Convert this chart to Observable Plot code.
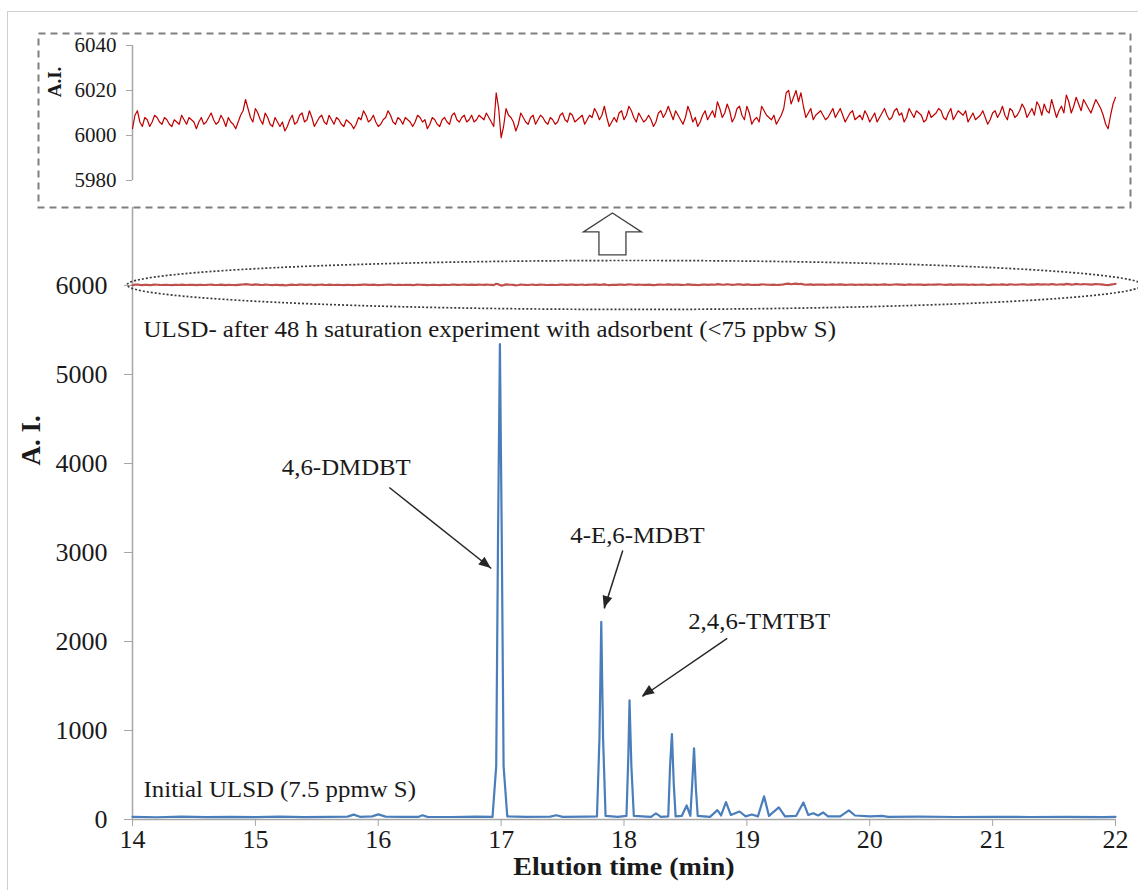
<!DOCTYPE html>
<html>
<head>
<meta charset="utf-8">
<script src="https://cdn.jsdelivr.net/npm/d3@7"></script>
<script src="https://cdn.jsdelivr.net/npm/@observablehq/plot@0.6"></script>
<style>
  html, body { margin: 0; padding: 0; background: white; }
  #wrap { position: relative; width: 1138px; height: 890px; overflow: hidden; background: white; }
  #wrap svg { position: absolute; left: 0; top: 0; overflow: visible; }
  #border { position: absolute; left: 7px; top: 11px; width: 1140px; height: 900px;
            border-left: 1px solid #cfcfcf; border-top: 1px solid #cfcfcf; }
</style>
</head>
<body>
<div id="wrap"><div id="border"></div></div>
<script>
// ---------- data ----------
// Initial ULSD chromatogram (blue): elution time (min) and intensity (A.I.)
const blueTime = [14.00,14.20,14.40,14.60,14.80,15.00,15.20,15.40,15.60,15.75,15.80,15.85,15.95,16.00,16.06,16.20,16.33,16.36,16.40,16.60,16.80,16.93,16.96,16.975,16.99,17.005,17.02,17.05,17.20,17.40,17.45,17.50,17.70,17.78,17.80,17.815,17.83,17.85,17.95,18.02,18.035,18.045,18.06,18.08,18.22,18.26,18.30,18.36,18.375,18.39,18.405,18.42,18.47,18.51,18.54,18.555,18.57,18.585,18.60,18.70,18.76,18.79,18.83,18.87,18.94,18.99,19.04,19.09,19.14,19.18,19.26,19.31,19.40,19.46,19.50,19.54,19.58,19.62,19.66,19.76,19.83,19.88,20.00,20.10,20.15,20.40,20.70,21.00,21.30,21.60,21.90,22.00];
const blueValue = [30,25,32,26,30,27,33,27,30,32,55,30,35,58,32,30,30,48,30,28,32,30,600,3200,5340,3200,600,35,30,32,48,30,32,35,900,2220,900,40,30,40,700,1340,600,40,30,68,30,35,600,960,400,35,40,158,40,400,800,350,40,30,105,45,196,50,90,35,56,35,260,40,136,35,40,192,50,71,45,79,35,35,102,45,35,40,30,32,28,30,28,30,27,30];

// ULSD after 48 h saturation (red): elution time (min) and intensity (A.I.)
const redTime = [
14.00,14.02,14.04,14.06,14.08,14.10,14.12,14.14,14.16,14.18,14.20,14.22,14.24,14.26,14.28,14.30,14.32,14.34,14.36,14.38,
14.40,14.42,14.44,14.46,14.48,14.50,14.52,14.54,14.56,14.58,14.60,14.62,14.64,14.66,14.68,14.70,14.72,14.74,14.76,14.78,
14.80,14.82,14.84,14.86,14.88,14.90,14.92,14.94,14.96,14.98,15.00,15.02,15.04,15.06,15.08,15.10,15.12,15.14,15.16,15.18,
15.20,15.22,15.24,15.26,15.28,15.30,15.32,15.34,15.36,15.38,15.40,15.42,15.44,15.46,15.48,15.50,15.52,15.54,15.56,15.58,
15.60,15.62,15.64,15.66,15.68,15.70,15.72,15.74,15.76,15.78,15.80,15.82,15.84,15.86,15.88,15.90,15.92,15.94,15.96,15.98,
16.00,16.02,16.04,16.06,16.08,16.10,16.12,16.14,16.16,16.18,16.20,16.22,16.24,16.26,16.28,16.30,16.32,16.34,16.36,16.38,
16.40,16.42,16.44,16.46,16.48,16.50,16.52,16.54,16.56,16.58,16.60,16.62,16.64,16.66,16.68,16.70,16.72,16.74,16.76,16.78,
16.80,16.82,16.84,16.86,16.88,16.90,16.92,16.94,16.96,16.98,17.00,17.02,17.04,17.06,17.08,17.10,17.12,17.14,17.16,17.18,
17.20,17.22,17.24,17.26,17.28,17.30,17.32,17.34,17.36,17.38,17.40,17.42,17.44,17.46,17.48,17.50,17.52,17.54,17.56,17.58,
17.60,17.62,17.64,17.66,17.68,17.70,17.72,17.74,17.76,17.78,17.80,17.82,17.84,17.86,17.88,17.90,17.92,17.94,17.96,17.98,
18.00,18.02,18.04,18.06,18.08,18.10,18.12,18.14,18.16,18.18,18.20,18.22,18.24,18.26,18.28,18.30,18.32,18.34,18.36,18.38,
18.40,18.42,18.44,18.46,18.48,18.50,18.52,18.54,18.56,18.58,18.60,18.62,18.64,18.66,18.68,18.70,18.72,18.74,18.76,18.78,
18.80,18.82,18.84,18.86,18.88,18.90,18.92,18.94,18.96,18.98,19.00,19.02,19.04,19.06,19.08,19.10,19.12,19.14,19.16,19.18,
19.20,19.22,19.24,19.26,19.28,19.30,19.32,19.34,19.36,19.38,19.40,19.42,19.44,19.46,19.48,19.50,19.52,19.54,19.56,19.58,
19.60,19.62,19.64,19.66,19.68,19.70,19.72,19.74,19.76,19.78,19.80,19.82,19.84,19.86,19.88,19.90,19.92,19.94,19.96,19.98,
20.00,20.02,20.04,20.06,20.08,20.10,20.12,20.14,20.16,20.18,20.20,20.22,20.24,20.26,20.28,20.30,20.32,20.34,20.36,20.38,
20.40,20.42,20.44,20.46,20.48,20.50,20.52,20.54,20.56,20.58,20.60,20.62,20.64,20.66,20.68,20.70,20.72,20.74,20.76,20.78,
20.80,20.82,20.84,20.86,20.88,20.90,20.92,20.94,20.96,20.98,21.00,21.02,21.04,21.06,21.08,21.10,21.12,21.14,21.16,21.18,
21.20,21.22,21.24,21.26,21.28,21.30,21.32,21.34,21.36,21.38,21.40,21.42,21.44,21.46,21.48,21.50,21.52,21.54,21.56,21.58,
21.60,21.62,21.64,21.66,21.68,21.70,21.72,21.74,21.76,21.78,21.80,21.82,21.84,21.86,21.88,21.90,21.92,21.94,21.96,21.98,
22.00];
const redValue = [
6003,6009,6011,6006,6004,6008,6007,6004,6006,6009,6008,6006,6005,6008,6007,6005,6004,6007,6006,6005,
6009,6007,6005,6008,6007,6006,6003,6006,6008,6005,6006,6008,6010,6007,6005,6006,6009,6007,6004,6008,
6006,6005,6003,6006,6009,6011,6016,6012,6008,6006,6012,6010,6007,6005,6010,6008,6005,6004,6008,6006,
6004,6006,6002,6004,6007,6009,6005,6006,6009,6010,6006,6007,6011,6008,6004,6006,6008,6009,6006,6005,
6009,6007,6005,6008,6007,6005,6004,6007,6006,6005,6003,6005,6008,6007,6011,6009,6006,6007,6009,6006,
6004,6005,6007,6008,6011,6009,6006,6005,6008,6007,6005,6008,6007,6006,6004,6006,6009,6008,6006,6007,
6003,6005,6008,6007,6005,6004,6007,6008,6006,6005,6009,6010,6007,6006,6008,6009,6006,6007,6009,6006,
6007,6009,6008,6007,6010,6008,6006,6004,6019,6012,5999,6004,6012,6009,6008,6006,6002,6005,6010,6008,
6006,6005,6008,6009,6005,6007,6009,6008,6006,6005,6008,6007,6005,6006,6009,6010,6007,6006,6010,6009,
6006,6007,6008,6009,6005,6007,6009,6008,6012,6010,6007,6009,6013,6008,6004,6006,6008,6006,6010,6011,
6007,6009,6013,6011,6008,6006,6010,6008,6006,6007,6009,6007,6004,6006,6010,6011,6008,6010,6013,6010,
6007,6011,6009,6007,6005,6008,6013,6010,6006,6008,6004,6006,6009,6011,6007,6009,6011,6008,6015,6012,
6008,6010,6014,6011,6006,6008,6012,6013,6009,6007,6013,6010,6005,6007,6008,6006,6013,6011,6009,6008,
6007,6009,6005,6007,6009,6012,6019,6020,6014,6017,6020,6015,6019,6013,6008,6010,6012,6007,6009,6010,
6011,6009,6007,6008,6010,6012,6008,6010,6012,6009,6006,6008,6010,6011,6007,6008,6009,6007,6011,6009,
6006,6008,6010,6006,6008,6010,6012,6009,6007,6008,6011,6012,6009,6010,6006,6008,6012,6010,6008,6011,
6010,6009,6006,6007,6011,6008,6009,6010,6012,6011,6008,6007,6010,6012,6007,6009,6011,6010,6009,6011,
6006,6008,6010,6007,6008,6009,6011,6008,6005,6007,6010,6011,6008,6010,6013,6009,6007,6012,6011,6008,
6009,6011,6014,6012,6008,6010,6012,6009,6015,6013,6009,6014,6011,6010,6016,6012,6008,6011,6013,6010,
6018,6015,6010,6013,6017,6014,6011,6016,6014,6012,6010,6013,6016,6014,6012,6009,6005,6003,6009,6014,
6017];

// axes
const xTicks = [14, 15, 16, 17, 18, 19, 20, 21, 22];
const yTicks = [0, 1000, 2000, 3000, 4000, 5000, 6000];
const insetTicks = [5980, 6000, 6020, 6040];

// peak annotations
const peakNames = ["4,6-DMDBT", "4-E,6-MDBT", "2,4,6-TMTBT"];
const peakLabelT = [15.74, 18.11, 19.10];
const peakLabelV = [3955, 3191, 2225];
const arrowT1 = [16.09, 17.99, 18.84];
const arrowV1 = [3730, 3022, 2034];
const arrowT2 = [16.92, 17.84, 18.15];
const arrowV2 = [2820, 2371, 1382];

// series captions
const captionText = ["ULSD- after 48 h saturation experiment with adsorbent (<75 ppbw S)", "Initial ULSD (7.5 ppmw S)"];
const captionT = [14.09, 14.09];
const captionV = [5506, 337];

// ---------- tables ----------
const blue = blueTime.map((t, i) => ({t, v: blueValue[i]}));
const red = redTime.map((t, i) => ({t, v: redValue[i]}));
const peaks = peakNames.map((name, i) => ({name, t: peakLabelT[i], v: peakLabelV[i],
  t1: arrowT1[i], v1: arrowV1[i], t2: arrowT2[i], v2: arrowV2[i]}));
const captions = captionText.map((text, i) => ({text, t: captionT[i], v: captionV[i]}));

const serif = "'Liberation Serif', 'Times New Roman', serif";
const axisGray = "#a6a6a6";
const ink = "#1a1a1a";

// filled arrowheads for annotation arrows
function arrowHeads(index, scales) {
  const g = d3.create("svg:g").attr("fill", "#262626");
  for (const p of peaks) {
    const x1 = scales.x(p.t1), y1 = scales.y(p.v1);
    const x2 = scales.x(p.t2), y2 = scales.y(p.v2);
    const a = Math.atan2(y2 - y1, x2 - x1);
    const L = 12, W = 5;
    const bx = x2 - L * Math.cos(a), by = y2 - L * Math.sin(a);
    const pts = [[x2, y2], [bx + W * Math.sin(a), by - W * Math.cos(a)], [bx - W * Math.sin(a), by + W * Math.cos(a)]];
    g.append("path").attr("d", "M" + pts.map(q => q.join(",")).join("L") + "Z");
  }
  return g.node();
}

// hollow block arrow between the trace and the inset
function blockArrow(index, scales) {
  const cx = scales.x(17.91), ty = scales.y(6809), hy = scales.y(6596), by = scales.y(6337);
  const hw = 29, sw = 13.5;
  const d = `M${cx},${ty}L${cx + hw},${hy}L${cx + sw},${hy}L${cx + sw},${by}L${cx - sw},${by}L${cx - sw},${hy}L${cx - hw},${hy}Z`;
  return d3.create("svg:path").attr("d", d).attr("fill", "white").attr("stroke", "#404040").attr("stroke-width", 1.3).node();
}

// dotted ellipse around the red trace
function ellipseMark(index, scales) {
  const cx = scales.x(18.09), cy = scales.y(6000);
  const rx = cx - scales.x(13.96), ry = scales.y(6000) - scales.y(6275);
  return d3.create("svg:ellipse").attr("cx", cx).attr("cy", cy).attr("rx", rx).attr("ry", ry)
    .attr("fill", "none").attr("stroke", "#3a3a3a").attr("stroke-width", 1.7).attr("stroke-dasharray", "2,2").node();
}

const main = Plot.plot({
  width: 1138, height: 890,
  marginLeft: 132, marginRight: 23, marginTop: 207, marginBottom: 71,
  style: {fontFamily: serif, fontSize: "26px", color: ink, background: "transparent", overflow: "visible"},
  x: {domain: [14, 22]},
  y: {domain: [0, 6876]},
  marks: [
    Plot.ruleY([0], {stroke: axisGray, strokeWidth: 1.5}),
    Plot.ruleX([14], {y1: 0, y2: 6876, stroke: axisGray, strokeWidth: 1.5}),
    Plot.axisX({ticks: xTicks, tickSize: 7, tickPadding: 3, stroke: axisGray, fill: ink, fontSize: 26, label: null, tickFormat: d => String(d)}),
    Plot.axisY({ticks: yTicks, tickSize: 8, tickPadding: 17, stroke: axisGray, fill: ink, fontSize: 26, label: null, tickFormat: d => String(d)}),
    Plot.text(["Elution time (min)"], {frameAnchor: "bottom", dy: 55, fontSize: 26, fontWeight: "bold", fill: ink}),
    Plot.text(["A. I."], {frameAnchor: "left", y: [3978], dx: -101, rotate: -90, fontSize: 27, fontWeight: "bold", fill: ink}),
    ellipseMark,
    Plot.line(red, {x: "t", y: "v", stroke: "#c0504d", strokeWidth: 2.2}),
    Plot.line(blue, {x: "t", y: "v", stroke: "#4a7ebb", strokeWidth: 2.2}),
    Plot.text(captions, {x: "t", y: "v", text: "text", textAnchor: "start", fontSize: 23, fill: ink}),
    Plot.text(peaks, {x: "t", y: "v", text: "name", fontSize: 23, fill: ink}),
    Plot.link(peaks, {x1: "t1", y1: "v1", x2: "t2", y2: "v2", stroke: "#262626", strokeWidth: 1.5}),
    arrowHeads,
    blockArrow
  ]
});

const inset = Plot.plot({
  width: 1138, height: 215,
  marginLeft: 132, marginRight: 23, marginTop: 45, marginBottom: 35,
  style: {fontFamily: serif, fontSize: "21px", color: ink, background: "transparent", overflow: "visible"},
  x: {domain: [14, 22], axis: null},
  y: {domain: [5980, 6040]},
  marks: [
    Plot.frame({stroke: "#7f7f7f", strokeWidth: 2, strokeDasharray: "7,5", insetTop: -12, insetBottom: -27, insetLeft: -94, insetRight: -15}),
    Plot.ruleX([14], {y1: 5980, y2: 6040, stroke: axisGray, strokeWidth: 1.5}),
    Plot.axisY({ticks: insetTicks, tickSize: 6, tickPadding: 10, stroke: axisGray, fill: ink, fontSize: 21, label: null, tickFormat: d => String(d)}),
    Plot.text(["A.I."], {frameAnchor: "left", y: [6017], dx: -78, rotate: -90, fontSize: 19, fontWeight: "bold", fill: ink}),
    Plot.line(red, {x: "t", y: "v", stroke: "#c00000", strokeWidth: 1.2})
  ]
});

// the reference typography is slightly wide: stretch the horizontal annotation texts
const stretched = new Set([...captionText, ...peakNames, "Elution time (min)"]);
d3.select(main).selectAll("text").each(function () {
  if (stretched.has(this.textContent)) {
    const t = this.getAttribute("transform") || "";
    this.setAttribute("transform", t + " scale(1.08,1)");
  }
});

const wrap = document.getElementById("wrap");
wrap.appendChild(main);
wrap.appendChild(inset);
</script>
</body>
</html>
